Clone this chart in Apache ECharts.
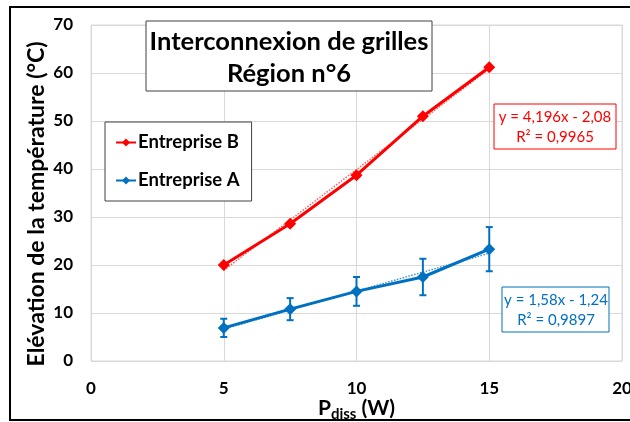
<!DOCTYPE html>
<html>
<head>
<meta charset="utf-8">
<script src="https://cdn.jsdelivr.net/npm/echarts@6/dist/echarts.min.js"></script>
<style>
  html, body { margin: 0; padding: 0; background: #fff; }
  #chart { width: 630px; height: 422px; }
</style>
</head>
<body>
<div id="chart"></div>
<script>
// Puissance dissipée (W)
const pdiss = [5, 7.5, 10, 12.5, 15];
// Élévation de température (°C)
const entrepriseB = [20, 28.6, 38.7, 51.0, 61.2];
const entrepriseA = [6.9, 10.8, 14.5, 17.5, 23.3];
// Demi-amplitude des barres d'erreur, Entreprise A
const errA = [1.9, 2.3, 3.0, 3.8, 4.6];
// Régressions linéaires : pente, ordonnée à l'origine, R²
const fitB = [4.196, -2.08, 0.9965];
const fitA = [1.58, -1.24, 0.9897];
const xTicks = [0, 5, 10, 15, 20];
const yTicks = [0, 10, 20, 30, 40, 50, 60, 70];

const FONT = 'Lato, "Open Sans", sans-serif';
const RED = '#FF0000';
const BLUE = '#0070C0';

const fr = (v, d) => v.toFixed(d).replace('.', ',');
const eqText = (f, ds, di) =>
  'y = ' + fr(f[0], ds) + 'x ' + (f[1] < 0 ? '- ' : '+ ') + fr(Math.abs(f[1]), di) +
  '\nR² = ' + fr(f[2], 4);
const trend = f => [pdiss[0], pdiss[pdiss.length - 1]].map(x => [x, f[0] * x + f[1]]);

const chart = echarts.init(document.getElementById('chart'), null, { renderer: 'canvas' });

chart.setOption({
  animation: false,
  backgroundColor: '#fff',
  textStyle: { fontFamily: FONT },
  grid: {
    left: 91, right: 8, top: 25, bottom: 61,
    outerBoundsMode: 'none', containLabel: false,
    show: true, borderColor: '#D9D9D9', borderWidth: 1
  },
  xAxis: {
    type: 'value', min: xTicks[0], max: xTicks[xTicks.length - 1], interval: 5,
    name: 'P{s|diss} (W)', nameLocation: 'middle', nameGap: 34, nameMoveOverlap: false,
    nameTextStyle: {
      fontFamily: FONT, fontWeight: 'bold', fontSize: 21, color: '#000',
      rich: { s: { fontFamily: FONT, fontWeight: 'bold', fontSize: 15, color: '#000', padding: [12, 0, 0, 0] } }
    },
    axisLine: { show: false }, axisTick: { show: false },
    axisLabel: { fontFamily: FONT, fontWeight: 'bold', fontSize: 17, color: '#000', margin: 19 },
    splitLine: { lineStyle: { color: '#D9D9D9', width: 1 } }
  },
  yAxis: {
    type: 'value', min: yTicks[0], max: yTicks[yTicks.length - 1], interval: 10,
    name: 'Elévation de la température (°C)', nameLocation: 'middle', nameGap: 43, nameRotate: 90,
    nameMoveOverlap: false,
    nameTextStyle: { fontFamily: FONT, fontWeight: 'bold', fontSize: 23, color: '#000', padding: [0, 22, 0, 0] },
    axisLine: { show: false }, axisTick: { show: false },
    axisLabel: { fontFamily: FONT, fontWeight: 'bold', fontSize: 17, color: '#000', margin: 18 },
    splitLine: { lineStyle: { color: '#D9D9D9', width: 1 } }
  },
  legend: {
    data: ['Entreprise B', 'Entreprise A'],
    orient: 'vertical', left: 105, top: 122,
    backgroundColor: '#fff', borderColor: '#404040', borderWidth: 1,
    padding: [11, 12, 11, 10], itemGap: 19, itemWidth: 20, itemHeight: 10,
    textStyle: { fontFamily: FONT, fontWeight: 'bold', fontSize: 18.5, color: '#000', padding: [0, 0, 0, -3] }
  },
  series: [
    {
      name: 'Entreprise B', type: 'line', z: 5,
      data: pdiss.map((x, i) => [x, entrepriseB[i]]),
      symbol: 'diamond', symbolSize: 12,
      lineStyle: { color: RED, width: 3 }, itemStyle: { color: RED }
    },
    {
      name: 'Entreprise A', type: 'line', z: 5,
      data: pdiss.map((x, i) => [x, entrepriseA[i]]),
      symbol: 'diamond', symbolSize: 12,
      lineStyle: { color: BLUE, width: 3 }, itemStyle: { color: BLUE }
    },
    {
      name: 'tendance B', type: 'line', z: 4, silent: true, symbol: 'none',
      data: trend(fitB), lineStyle: { color: '#FF6060', width: 1.5, type: 'dotted' }
    },
    {
      name: 'tendance A', type: 'line', z: 4, silent: true, symbol: 'none',
      data: trend(fitA), lineStyle: { color: '#3C8FD0', width: 1.5, type: 'dotted' }
    },
    {
      name: 'erreur A', type: 'custom', z: 6, silent: true,
      data: pdiss.map((x, i) => [x, entrepriseA[i] - errA[i], entrepriseA[i] + errA[i]]),
      renderItem: (params, api) => {
        const lo = api.coord([api.value(0), api.value(1)]);
        const hi = api.coord([api.value(0), api.value(2)]);
        const w = 3.5;
        const st = { stroke: BLUE, lineWidth: 2 };
        return {
          type: 'group',
          children: [
            { type: 'line', shape: { x1: lo[0], y1: lo[1], x2: hi[0], y2: hi[1] }, style: st },
            { type: 'line', shape: { x1: lo[0] - w, y1: lo[1], x2: lo[0] + w, y2: lo[1] }, style: st },
            { type: 'line', shape: { x1: hi[0] - w, y1: hi[1], x2: hi[0] + w, y2: hi[1] }, style: st }
          ]
        };
      }
    }
  ],
  graphic: [
    // cadre extérieur
    { type: 'rect', z: 100, silent: true, shape: { x: 10, y: 7, width: 640, height: 413 }, style: { fill: 'none', stroke: '#000', lineWidth: 2 } },
    // titre
    { type: 'rect', z: 50, shape: { x: 146, y: 21, width: 286, height: 70 }, style: { fill: '#fff', stroke: '#404040', lineWidth: 1 } },
    { type: 'text', z: 51, x: 289, y: 58, style: { text: 'Interconnexion de grilles\nRégion n°6', font: 'bold 25.5px ' + FONT, fill: '#000', align: 'center', verticalAlign: 'middle', lineHeight: 32 } },
    // équation B
    { type: 'rect', z: 50, shape: { x: 494, y: 104, width: 122, height: 45 }, style: { fill: '#fff', stroke: RED, lineWidth: 1 } },
    { type: 'text', z: 51, x: 555, y: 127, style: { text: eqText(fitB, 3, 2), font: '15px ' + FONT, fill: RED, align: 'center', verticalAlign: 'middle', lineHeight: 20 } },
    // équation A
    { type: 'rect', z: 50, shape: { x: 502, y: 287, width: 107, height: 45 }, style: { fill: '#fff', stroke: BLUE, lineWidth: 1 } },
    { type: 'text', z: 51, x: 556, y: 310, style: { text: eqText(fitA, 2, 2), font: '15px ' + FONT, fill: BLUE, align: 'center', verticalAlign: 'middle', lineHeight: 20 } }
  ]
});
</script>
</body>
</html>
